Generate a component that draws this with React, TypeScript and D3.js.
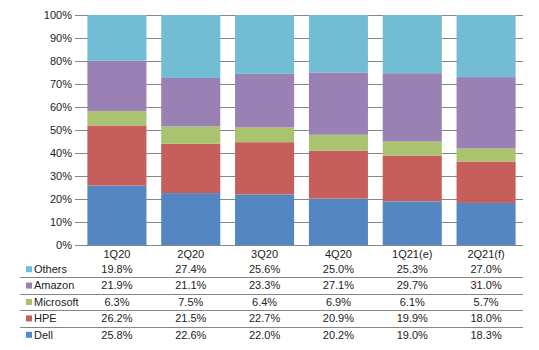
import * as d3 from "d3";
import { useEffect, useRef } from "react";

const quarters = ["1Q20", "2Q20", "3Q20", "4Q20", "1Q21(e)", "2Q21(f)"];
const dell = [25.8, 22.6, 22.0, 20.2, 19.0, 18.3];
const hpe = [26.2, 21.5, 22.7, 20.9, 19.9, 18.0];
const microsoft = [6.3, 7.5, 6.4, 6.9, 6.1, 5.7];
const amazon = [21.9, 21.1, 23.3, 27.1, 29.7, 31.0];
const others = [19.8, 27.4, 25.6, 25.0, 25.3, 27.0];

const seriesNames = ["Dell", "HPE", "Microsoft", "Amazon", "Others"];
const seriesValues = [dell, hpe, microsoft, amazon, others];
const seriesColors = ["#5486c1", "#c65f5c", "#a9c36f", "#9981b3", "#72bdd3"];

const W = 539;
const H = 350;

export default function App() {
  const svgRef = useRef<SVGSVGElement>(null);

  useEffect(() => {
    const svg = d3.select(svgRef.current);
    svg.selectAll("*").remove();

    const rows = quarters.map((q, i) => {
      const r: any = { q };
      seriesNames.forEach((s, j) => (r[s] = seriesValues[j][i]));
      return r;
    });

    const stacked = d3.stack().keys(seriesNames).offset(d3.stackOffsetExpand)(rows);

    const x = d3.scaleBand().domain(quarters).range([80, 523]).paddingInner(0.2).paddingOuter(0.1);
    const y = d3.scaleLinear().domain([0, 1]).range([245, 15]);

    const font = "'Liberation Sans', Arial, sans-serif";
    const textColor = "#222";

    // gridlines + y ticks
    const yAxis = d3.axisLeft(y).ticks(10, "%").tickSize(-(523 - 75)).tickPadding(4);
    const gy = svg.append("g").attr("transform", "translate(75,0)").call(yAxis);
    gy.select(".domain").remove();
    gy.selectAll("line").attr("stroke", "#868686").attr("x1", 0);
    gy.selectAll("text")
      .attr("font-family", font)
      .attr("font-size", 11)
      .attr("fill", textColor)
      .attr("x", -3);

    // bars
    svg.append("g")
      .selectAll("g")
      .data(stacked)
      .join("g")
      .attr("fill", (_d, i) => seriesColors[i])
      .selectAll("rect")
      .data((d) => d)
      .join("rect")
      .attr("x", (d: any) => x(d.data.q)!)
      .attr("width", x.bandwidth())
      .attr("y", (d) => y(d[1]))
      .attr("height", (d) => y(d[0]) - y(d[1]));

    // data table
    const tableOrder = seriesNames.slice().reverse();
    const rowY = d3.scaleBand().domain(tableOrder).range([261, 343]);

    svg.append("g")
      .selectAll("text")
      .data(quarters)
      .join("text")
      .attr("x", (d) => x(d)! + x.bandwidth() / 2)
      .attr("y", 254)
      .attr("dy", "0.35em")
      .attr("text-anchor", "middle")
      .attr("font-family", font)
      .attr("font-size", 11)
      .attr("fill", textColor)
      .text((d) => d);

    // row separators
    svg.append("g")
      .selectAll("line")
      .data(tableOrder.slice(1))
      .join("line")
      .attr("x1", 20)
      .attr("x2", 523)
      .attr("y1", (d) => Math.round(rowY(d)!) + 0.5)
      .attr("y2", (d) => Math.round(rowY(d)!) + 0.5)
      .attr("stroke", "#868686");

    const rowG = svg.append("g")
      .selectAll("g")
      .data(tableOrder)
      .join("g")
      .attr("transform", (d) => `translate(0,${rowY(d)! + rowY.bandwidth() / 2})`);

    rowG.append("rect")
      .attr("x", 26)
      .attr("y", -3)
      .attr("width", 6)
      .attr("height", 6)
      .attr("fill", (d) => seriesColors[seriesNames.indexOf(d)]);

    rowG.append("text")
      .attr("x", 34)
      .attr("dy", "0.35em")
      .attr("font-family", font)
      .attr("font-size", 11)
      .attr("fill", textColor)
      .text((d) => d);

    rowG.selectAll("text.v")
      .data((d) => seriesValues[seriesNames.indexOf(d)].map((v, i) => ({ v, q: quarters[i] })))
      .join("text")
      .attr("class", "v")
      .attr("x", (d) => x(d.q)! + x.bandwidth() / 2)
      .attr("dy", "0.35em")
      .attr("text-anchor", "middle")
      .attr("font-family", font)
      .attr("font-size", 11)
      .attr("fill", textColor)
      .text((d) => d.v.toFixed(1) + "%");
  }, []);

  return (
    <svg
      ref={svgRef}
      width={W}
      height={H}
      style={{ position: "absolute", left: 0, top: 0, background: "#fff" }}
    />
  );
}
